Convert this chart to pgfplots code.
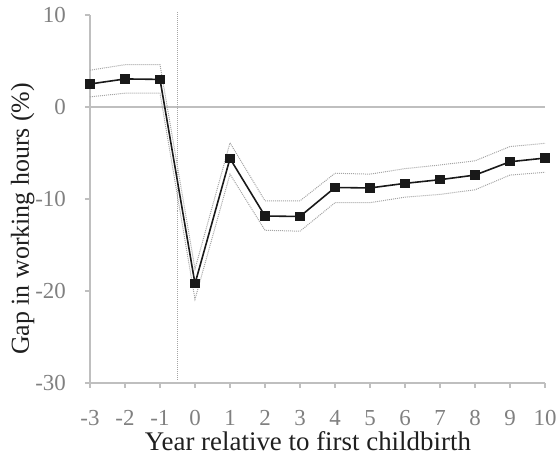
\documentclass[border=0pt]{standalone}
\usepackage{pgfplots}
\pgfplotsset{compat=1.18}
\usepackage{fontspec}
\setmainfont{Liberation Serif}
\definecolor{axgray}{RGB}{191,191,191}
\definecolor{tickgray}{RGB}{128,128,128}
\definecolor{bandgray}{RGB}{165,165,165}
\begin{document}
\begin{tikzpicture}
\useasboundingbox (-90bp,-72bp) rectangle (467bp,383bp);
\begin{axis}[
  at={(0,0)}, anchor=south west,
  scale only axis,
  width=455bp, height=368bp,
  xmin=-3, xmax=10, ymin=-30, ymax=10,
  axis lines=left,
  axis line style={-, axgray, line width=1.3pt},
  xtick={-3,...,10}, ytick={-30,-20,-10,0,10},
  tick style={axgray, line width=1.3pt},
  tick align=outside,
  major tick length=5bp,
  tick label style={font=\fontsize{23}{27}\selectfont, text=tickgray},
  /pgf/number format/assume math mode=true,
  xticklabel style={anchor=base, inner sep=0pt, text depth=0pt, yshift=-37bp},
  yticklabel style={anchor=east, inner sep=0pt, xshift=-19bp},
  xticklabel shift=0pt, yticklabel shift=0pt,
  xlabel={Year relative to first childbirth},
  ylabel={Gap in working hours (\%)},
  xlabel style={font=\fontsize{27}{31}\selectfont, text=black!88, text height=0.7em,
    at={([yshift=-67bp]axis description cs:0.479,0)}, anchor=base, inner sep=0pt},
  ylabel style={font=\fontsize{26}{30}\selectfont, text=black!88,
    at={([xshift=-61bp]axis description cs:0,0.446)}, anchor=base, inner sep=0pt},
  clip=false,
]
\addplot[axgray, line width=1.3pt, forget plot] coordinates {(-3,0) (10,0)};
\addplot[bandgray, densely dotted, line width=1pt, forget plot] coordinates {(-0.5,10.3) (-0.5,-29.7)};
\addplot[bandgray, densely dotted, line width=1pt] coordinates {
(-3,4.0) (-2,4.6) (-1,4.6) (0,-17.6) (1,-3.9) (2,-10.2) (3,-10.2) (4,-7.2) (5,-7.3) (6,-6.7) (7,-6.3) (8,-5.85) (9,-4.3) (10,-3.95)};
\addplot[bandgray, densely dotted, line width=1pt] coordinates {
(-3,1.1) (-2,1.5) (-1,1.5) (0,-20.9) (1,-7.3) (2,-13.4) (3,-13.5) (4,-10.4) (5,-10.4) (6,-9.8) (7,-9.5) (8,-9.0) (9,-7.4) (10,-7.1)};
\addplot[black!90, line width=1.6pt, mark=square*, mark size=3.8bp] coordinates {
(-3,2.5) (-2,3.05) (-1,3.0) (0,-19.2) (1,-5.6) (2,-11.85) (3,-11.9) (4,-8.75) (5,-8.8) (6,-8.3) (7,-7.9) (8,-7.4) (9,-5.95) (10,-5.55)};
\end{axis}
\end{tikzpicture}
\end{document}
